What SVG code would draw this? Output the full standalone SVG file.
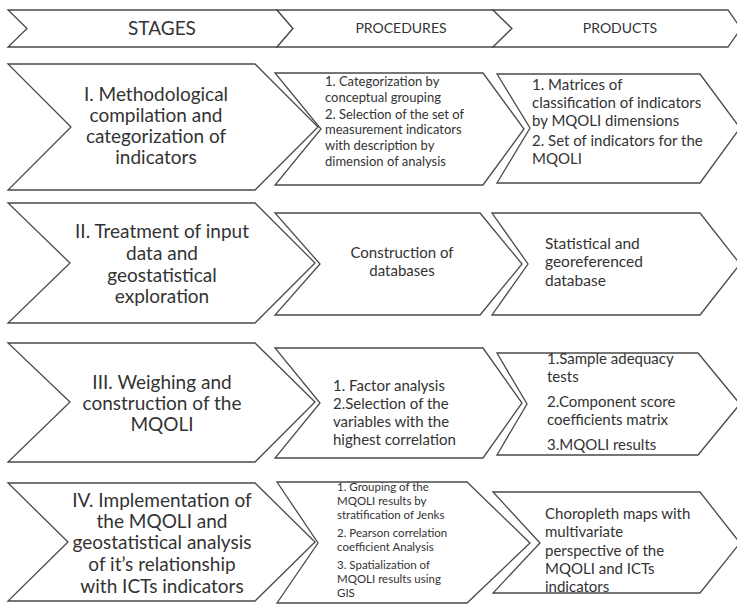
<svg xmlns="http://www.w3.org/2000/svg" width="737" height="604" viewBox="0 0 737 604">
<style>
.ch{fill:#ffffff;stroke:#4a4a4a;stroke-width:1.3;stroke-linejoin:miter}
text{font-family:Lato,"Liberation Sans",sans-serif;fill:#333333}
.hd{font-size:14px;text-anchor:middle}
.hs{font-size:19px;text-anchor:middle}
.st{font-size:19px;text-anchor:middle}
.p13{font-size:13px}
.p15{font-size:15px}
.p115{font-size:11.5px}
.c15{font-size:15px;text-anchor:middle}
.p155{font-size:15.5px}
</style>
<rect width="737" height="604" fill="#ffffff"/>
<g id="header">
  <g id="h-stages"><polygon class="ch" points="8,10 277,10 293,28.5 277,47 8,47 27,28.5"/><text class="hs" x="162" y="35">STAGES</text></g>
  <g id="h-procedures"><polygon class="ch" points="277,10 493,10 512,28.5 493,47 277,47 293,28.5"/><text class="hd" x="401" y="33">PROCEDURES</text></g>
  <g id="h-products"><polygon class="ch" points="493,10 728,10 741,28.5 728,47 493,47 512,28.5"/><text class="hd" x="620" y="33">PRODUCTS</text></g>
</g>
<g id="row1">
  <g id="s1"><polygon class="ch" points="8,64 255,64 318,127 255,190 8,190 71,127"/>
    <text class="st"><tspan x="156" y="101">I. Methodological</tspan><tspan x="156" y="122">compilation and</tspan><tspan x="156" y="143">categorization of</tspan><tspan x="156" y="164">indicators</tspan></text></g>
  <g id="p1"><polygon class="ch" points="275,73 483,73 524,129 483,185 275,185 321,129"/>
    <text class="p13"><tspan x="325" y="86">1. Categorization by</tspan><tspan x="325" y="102">conceptual grouping</tspan><tspan x="325" y="119">2. Selection of the set of</tspan><tspan x="325" y="134">measurement indicators</tspan><tspan x="325" y="150">with description by</tspan><tspan x="325" y="166">dimension of analysis</tspan></text></g>
  <g id="r1"><polygon class="ch" points="497,74 700,74 740,128 700,183 497,183 530,128"/>
    <text class="p15"><tspan x="532" y="90">1. Matrices of</tspan><tspan x="532" y="108">classification of indicators</tspan><tspan x="532" y="126">by MQOLI dimensions</tspan><tspan x="532" y="146">2. Set of indicators for the</tspan><tspan x="532" y="164">MQOLI</tspan></text></g>
</g>
<g id="row2">
  <g id="s2"><polygon class="ch" points="8,203 255,203 315,263 255,323 8,323 70,263"/>
    <text class="st"><tspan x="162" y="238">II. Treatment of input</tspan><tspan x="162" y="260">data and</tspan><tspan x="162" y="282">geostatistical</tspan><tspan x="162" y="303">exploration</tspan></text></g>
  <g id="p2"><polygon class="ch" points="275,213 480,213 522,264 480,315 275,315 320,264"/>
    <text class="c15"><tspan x="402" y="258">Construction of</tspan><tspan x="402" y="276">databases</tspan></text></g>
  <g id="r2"><polygon class="ch" points="492,213 700,213 740,264 700,315 492,315 528,264"/>
    <text class="p155"><tspan x="545" y="249">Statistical and</tspan><tspan x="545" y="267">georeferenced</tspan><tspan x="545" y="286">database</tspan></text></g>
</g>
<g id="row3">
  <g id="s3"><polygon class="ch" points="8,343 255,343 315,402 255,462 8,462 70,402"/>
    <text class="st"><tspan x="162" y="389">III. Weighing and</tspan><tspan x="162" y="410">construction of the</tspan><tspan x="162" y="431">MQOLI</tspan></text></g>
  <g id="p3"><polygon class="ch" points="275,348 483,348 522,403 483,458 275,458 320,403"/>
    <text class="p15"><tspan x="333" y="391">1. Factor analysis</tspan><tspan x="333" y="409">2.Selection of the</tspan><tspan x="333" y="427">variables with the</tspan><tspan x="333" y="445">highest correlation</tspan></text></g>
  <g id="r3"><polygon class="ch" points="497,353 698,353 740,404 698,455 497,455 527,404"/>
    <text class="p15"><tspan x="547" y="364">1.Sample adequacy</tspan><tspan x="547" y="382">tests</tspan><tspan x="547" y="407">2.Component score</tspan><tspan x="547" y="425">coefficients matrix</tspan><tspan x="547" y="450">3.MQOLI results</tspan></text></g>
</g>
<g id="row4">
  <g id="s4"><polygon class="ch" points="8,483 255,483 315,542 255,601 8,601 68,542"/>
    <text class="st"><tspan x="162" y="507">IV. Implementation of</tspan><tspan x="162" y="528">the MQOLI and</tspan><tspan x="162" y="549">geostatistical analysis</tspan><tspan x="162" y="571">of it’s relationship</tspan><tspan x="162" y="593">with ICTs indicators</tspan></text></g>
  <g id="p4"><polygon class="ch" points="277,482 467,482 530,543 467,603 277,603 318,543"/>
    <text class="p115"><tspan x="337" y="491">1. Grouping of the</tspan><tspan x="337" y="505">MQOLI results by</tspan><tspan x="337" y="519">stratification of Jenks</tspan><tspan x="337" y="537">2. Pearson correlation</tspan><tspan x="337" y="551">coefficient Analysis</tspan><tspan x="337" y="569">3. Spatialization of</tspan><tspan x="337" y="583">MQOLI results  using</tspan><tspan x="337" y="597">GIS</tspan></text></g>
  <g id="r4"><polygon class="ch" points="493,492 700,492 740,543 700,593 493,593 540,543"/>
    <text class="p15"><tspan x="545" y="519">Choropleth maps with</tspan><tspan x="545" y="537">multivariate</tspan><tspan x="545" y="556">perspective of the</tspan><tspan x="545" y="574">MQOLI and ICTs</tspan><tspan x="545" y="592">indicators</tspan></text></g>
</g>
<g id="connectors"/>
</svg>
